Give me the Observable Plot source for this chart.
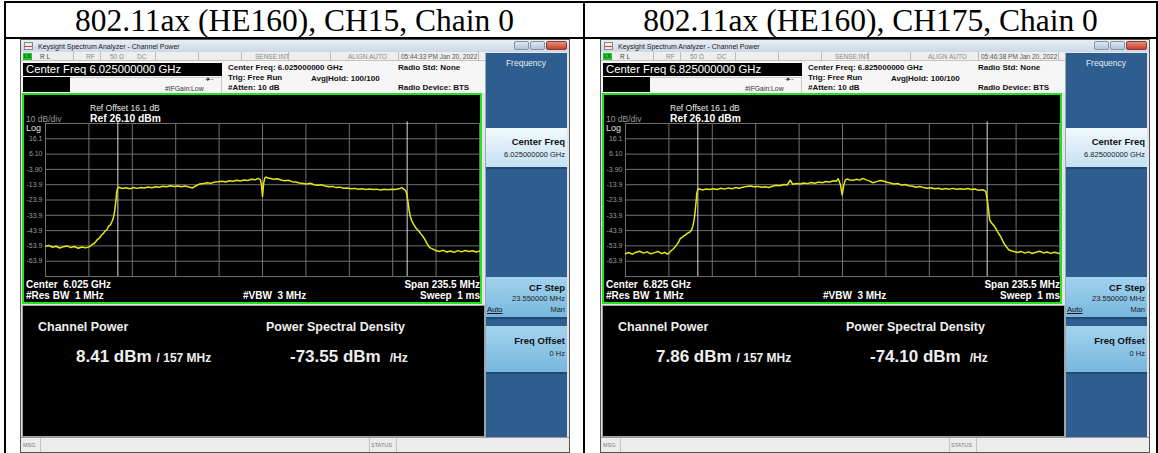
<!DOCTYPE html>
<html><head><meta charset="utf-8">
<script src="https://cdn.jsdelivr.net/npm/d3@7"></script>
<script src="https://cdn.jsdelivr.net/npm/@observablehq/plot@0.6"></script>
<style>
html,body{margin:0;padding:0;background:#fff;width:1158px;height:453px;overflow:hidden;}
#root{position:relative;width:1158px;height:453px;font-family:"Liberation Sans",Arial,sans-serif;overflow:hidden;}
.a{position:absolute;white-space:pre;}
</style></head><body><div id="root"></div>
<script>
// ---------------- data ----------------
const headers = ["802.11ax (HE160), CH15, Chain 0", "802.11ax (HE160), CH175, Chain 0"];
const centerFreqGHz = ["6.025000000", "6.825000000"];
const centerShort = ["6.025", "6.825"];
const timestamps = ["05:44:33 PM Jan 20, 2022", "05:46:38 PM Jan 20, 2022"];
const channelPower = ["8.41", "7.86"];
const psdValues = ["-73.55", "-74.10"];
const yGrid = [26.1, 16.1, 6.1, -3.9, -13.9, -23.9, -33.9, -43.9, -53.9, -63.9, -73.9];
const yTickValues = [16.1, 6.1, -3.9, -13.9, -23.9, -33.9, -43.9, -53.9, -63.9];
const yTickLabels = ["16.1", "6.10", "-3.90", "-13.9", "-23.9", "-33.9", "-43.9", "-53.9", "-63.9"];
const xGridMHz = [-117.75, -94.2, -70.65, -47.1, -23.55, 0, 23.55, 47.1, 70.65, 94.2, 117.75];
const channelEdgesMHz = [-78.5, 78.5];

// trace: [offset from center (MHz), level (dBm)]
const traceCH15 = [
[-117.75,-54.2],[-116,-53.6],[-114,-54.8],[-112,-54.1],[-110,-55.3],[-108,-54.4],[-106,-53.9],[-104,-55.0],[-102,-54.3],[-100,-55.4],[-98,-54.6],[-96,-55.2],[-94.5,-54.7],[-93.5,-54.1],
[-92.5,-53.0],[-91.5,-52.4],[-90.5,-51.2],[-89.5,-49.6],[-88.5,-48.8],[-87.5,-47.1],[-86.5,-46.0],[-85.5,-44.2],[-84.5,-43.5],[-83.5,-41.0],[-82.5,-40.2],[-81.5,-37.5],[-80.8,-35.0],[-80.2,-31.0],[-79.6,-25.0],[-79.1,-18.5],[-78.6,-16.2],
[-78,-15.6],[-76,-16.4],[-74,-15.9],[-72,-16.5],[-70,-15.8],[-68,-16.3],[-66,-15.7],[-64,-16.1],[-62,-15.4],[-60,-15.9],[-58,-15.2],[-56,-15.6],[-54,-14.9],[-52,-15.3],[-50,-14.6],[-48,-15.1],[-46,-14.7],[-44,-15.2],[-42,-14.8],[-40,-15.4],[-38,-16.0],[-36,-14.6],[-34,-13.4],[-32,-13.1],[-30,-12.6],[-28,-12.9],[-26,-12.2],[-24,-12.0],[-22,-11.6],[-20,-12.1],[-18,-11.3],[-16,-11.7],[-14,-11.0],[-12,-11.5],[-10,-10.8],[-8,-11.1],[-6,-10.4],[-4,-10.7],[-2.5,-9.8],[-1.2,-10.6],[-0.6,-13.5],[0,-21.5],[0.6,-13.2],[1.2,-9.6],[2,-8.9],[3,-9.5],[4.5,-9.9],[6,-10.3],[8,-10.0],[10,-10.8],[12,-11.3],[14,-11.0],[16,-11.9],[18,-12.2],[20,-12.8],[22,-13.1],[24,-13.4],[26,-13.0],[28,-13.9],[30,-14.2],[32,-14.0],[34,-14.7],[36,-15.2],[38,-15.0],[40,-15.8],[42,-15.5],[44,-16.2],[46,-16.0],[48,-16.6],[50,-16.3],[52,-16.9],[54,-16.5],[56,-17.0],[58,-16.7],[60,-17.1],[62,-16.8],[64,-17.3],[66,-16.9],[68,-17.2],[70,-16.8],[72,-17.1],[74,-16.6],[75.6,-15.8],[76.8,-17.0],[77.6,-17.6],[78.3,-20.0],
[79.0,-25.5],[79.6,-31.0],[80.3,-35.0],[81.0,-37.5],[82.0,-39.8],[83.0,-41.8],[84.0,-43.2],[85.0,-44.5],[86.0,-46.2],[87.0,-47.6],[88.0,-49.5],[89.0,-51.8],[90.0,-53.8],[91.0,-55.2],[92.5,-56.0],[94,-56.9],[96,-57.6],[98,-56.8],[100,-57.9],[102,-57.2],[104,-58.1],[106,-57.0],[108,-57.8],[110,-56.9],[112,-57.6],[114,-57.1],[116,-57.9],[117.75,-57.3]
];
const traceCH175 = [
[-117.75,-59.0],[-116,-58.2],[-114,-59.3],[-112,-58.0],[-110,-57.4],[-108,-58.6],[-106,-57.8],[-104,-59.1],[-102,-58.3],[-100,-57.6],[-98,-58.9],[-96.5,-58.1],[-95,-59.2],[-94,-58.4],
[-93,-57.0],[-92,-56.1],[-91,-54.8],[-90,-53.2],[-89,-51.5],[-88,-49.0],[-87,-48.3],[-86,-47.2],[-85,-46.6],[-84,-45.6],[-83,-45.0],[-82,-43.6],[-81.2,-41.0],[-80.6,-37.5],[-80.1,-33.0],[-79.6,-27.0],[-79.1,-20.0],[-78.6,-17.4],
[-78,-16.6],[-76,-17.3],[-74,-16.7],[-72,-17.1],[-70,-16.5],[-68,-17.0],[-66,-16.2],[-64,-16.8],[-62,-16.0],[-60,-16.5],[-58,-15.8],[-56,-16.2],[-54,-15.5],[-52,-15.0],[-50,-14.7],[-48,-15.3],[-46,-15.0],[-44,-15.6],[-42,-15.2],[-40,-15.7],[-38,-14.9],[-36,-14.3],[-34,-14.6],[-32,-13.8],[-30,-14.1],[-28.4,-11.0],[-27,-13.6],[-25,-13.1],[-23,-13.5],[-21,-12.8],[-19,-13.2],[-17,-12.5],[-15,-12.9],[-13,-12.2],[-11,-12.6],[-9,-11.8],[-7,-12.1],[-5,-11.3],[-3.5,-11.7],[-2.3,-10.0],[-1.1,-14.0],[-0.2,-20.5],[0.7,-14.2],[1.5,-10.9],[2.5,-10.2],[4,-10.8],[5.8,-11.0],[7.5,-10.4],[9.5,-10.9],[11,-9.8],[12.5,-10.6],[14.5,-11.4],[16.5,-12.6],[18.5,-11.9],[20.5,-11.2],[22,-11.5],[24,-12.3],[26,-12.8],[28,-13.4],[30,-13.1],[32,-14.2],[34,-13.8],[36,-14.6],[38,-14.9],[40,-15.5],[42,-15.1],[44,-15.8],[46,-16.2],[48,-15.9],[50,-16.6],[52,-16.2],[54,-16.9],[56,-16.4],[58,-16.8],[60,-16.3],[62,-16.9],[64,-16.5],[66,-16.8],[68,-16.4],[70,-17.0],[72,-16.7],[74,-17.6],[76,-17.2],[77.7,-18.1],[78.6,-24.0],
[79.3,-31.0],[79.9,-37.0],[80.7,-38.6],[81.5,-39.8],[82.3,-40.8],[83.2,-42.6],[84.1,-44.5],[85,-46.3],[86,-48.2],[87,-50.8],[88,-53.0],[89,-54.6],[90.2,-56.4],[91.5,-57.1],[93,-57.6],[95,-58.2],[97,-57.5],[99,-58.6],[101,-57.8],[103,-58.9],[105,-58.0],[107,-57.4],[109,-58.5],[111,-57.9],[113,-58.8],[115,-58.1],[117.75,-58.9]
];
const traces = [traceCH15, traceCH175];

// ---------------- helpers ----------------
const root = document.getElementById("root");
function box(x, y, w, h, style) {
  const d = document.createElement("div"); d.className = "a";
  d.style.cssText = `left:${x}px;top:${y}px;width:${w}px;height:${h}px;` + (style || "");
  root.appendChild(d); return d;
}
function txt(x, cy, s, size, style, anchor, small) {
  const d = document.createElement("div"); d.className = "a";
  const h = Math.round(size * 1.3);
  let pos = `left:${x}px;`;
  if (anchor === "end") pos = `right:${1158 - x}px;text-align:right;`;
  if (anchor === "middle") pos = `left:${x - 300}px;width:600px;text-align:center;`;
  d.style.cssText = `top:${cy - h / 2}px;height:${h}px;line-height:${h}px;font-size:${size}px;` + pos + (style || "");
  d.appendChild(document.createTextNode(s));
  if (small) {
    const sp = document.createElement("span");
    sp.textContent = small.text;
    sp.style.cssText = `font-size:${small.size}px;margin-left:${small.gap}px;`;
    d.appendChild(sp);
  }
  root.appendChild(d); return d;
}

function spectrum(trace) {
  const ticks = yTickValues.map((v, i) => ({v, label: yTickLabels[i]}));
  return Plot.plot({
    width: 460, height: 211,
    marginLeft: 23, marginRight: 3, marginTop: 30, marginBottom: 28,
    x: {domain: [-117.75, 117.75], axis: null},
    y: {domain: [-73.9, 26.1], axis: null},
    style: {background: "transparent", fontFamily: "Liberation Sans, Arial, sans-serif", overflow: "visible"},
    marks: [
      Plot.ruleY(yGrid, {stroke: "#6f6f6f", strokeWidth: 1}),
      Plot.ruleX(xGridMHz, {stroke: "#6f6f6f", strokeWidth: 1}),
      Plot.ruleX(channelEdgesMHz, {y1: -73.9, y2: 27.2, stroke: "#dcdcdc", strokeWidth: 1}),
      Plot.text(ticks, {x: -117.75, y: "v", text: "label", textAnchor: "end", dx: -3, fill: "#9d9d9d", fontSize: 7}),
      Plot.line(trace, {x: d => d[0], y: d => d[1], stroke: "#e6e612", strokeWidth: 1.5})
    ]
  });
}

// ---------------- table ----------------
box(4, 1, 1154, 2, "background:#000;");
box(4, 37, 1154, 2, "background:#000;");
box(4, 1, 2, 452, "background:#000;");
box(583, 1, 2, 452, "background:#000;");
box(1156, 1, 2, 452, "background:#000;");
headers.forEach((h, i) => {
  txt(i === 0 ? 294.5 : 870.5, 20, h, 31.5, "font-family:'Liberation Serif','Times New Roman',serif;color:#000;", "middle");
});

// ---------------- screens ----------------
function screen(i) {
  const dx = i * 580;
  const X = x => x + dx;
  // window frame
  box(X(20), 39, 550, 414, "background:#e4e4e4;box-sizing:border-box;border:1px solid #555;");
  // title bar
  box(X(21), 40, 548, 12, "background:linear-gradient(#e8eef5,#cbd8e6);");
  box(X(24), 42, 9, 8, "background:linear-gradient(#eee 0 45%,#d33 45% 70%,#eee 70%);border:1px solid #888;box-sizing:border-box;");
  txt(X(38), 46, "Keysight Spectrum Analyzer - Channel Power", 7, "color:#1b1b1b;");
  box(X(514), 41, 15, 9, "background:linear-gradient(#dfe8f2,#b4c6da);border:1px solid #7f93aa;box-sizing:border-box;border-radius:2px;");
  box(X(530), 41, 15, 9, "background:linear-gradient(#dfe8f2,#b4c6da);border:1px solid #7f93aa;box-sizing:border-box;border-radius:2px;");
  box(X(546), 41, 21, 9, "background:linear-gradient(#e8907e,#c3402c);border:1px solid #8a3b2e;box-sizing:border-box;border-radius:2px;");
  // status row
  box(X(21), 52, 464, 9, "background:#eeeeee;border-bottom:1px solid #c4c4c4;box-sizing:border-box;");
  [73, 100, 155, 198, 241, 288, 330, 398, 478].forEach(v => box(X(v), 52, 1, 9, "background:#bdbdbd;"));
  box(X(23), 53, 9, 7, "background:#22c322;");
  txt(X(24), 56.5, "LX", 5.5, "color:#063;font-weight:bold;");
  txt(X(40), 56.5, "R L", 6.5, "color:#444;");
  txt(X(86), 56.5, "RF", 6.5, "color:#8a8a8a;");
  txt(X(110), 56.5, "50 Ω", 6.5, "color:#8a8a8a;");
  txt(X(137), 56.5, "DC", 6.5, "color:#8a8a8a;");
  txt(X(255), 56.5, "SENSE:INT", 6.5, "color:#8a8a8a;");
  txt(X(348), 56.5, "ALIGN AUTO", 6.5, "color:#8a8a8a;");
  txt(X(401), 56.5, timestamps[i], 6.5, "color:#555;");
  // info area
  box(X(21), 61, 464, 32, "background:#f6f6f6;");
  box(X(23), 63, 199, 13, "background:#000;");
  txt(X(26), 69.5, "Center Freq " + centerFreqGHz[i] + " GHz", 11.3, "color:#fff;");
  box(X(23), 77, 47, 15, "background:#000;");
  box(X(70), 77, 152, 1, "background:#c8c8c8;");
  box(X(221), 77, 1, 16, "background:#c8c8c8;");
  txt(X(165), 88.5, "#IFGain:Low", 6.8, "color:#333;");
  txt(X(205), 79, "-▸-", 6.5, "color:#333;");
  txt(X(228), 68, "Center Freq: " + centerFreqGHz[i] + " GHz", 8, "color:#111;font-weight:bold;");
  txt(X(228), 77.5, "Trig: Free Run", 8, "color:#111;font-weight:bold;");
  txt(X(311), 78.5, "Avg|Hold: 100/100", 8, "color:#111;font-weight:bold;");
  txt(X(228), 87.5, "#Atten: 10 dB", 8, "color:#111;font-weight:bold;");
  txt(X(398), 68, "Radio Std: None", 8, "color:#111;font-weight:bold;");
  txt(X(398), 87.5, "Radio Device: BTS", 8, "color:#111;font-weight:bold;");
  // graph panel
  box(X(22), 93, 460, 211, "background:#000;");
  const svg = spectrum(traces[i]);
  svg.style.position = "absolute";
  svg.style.left = X(22) + "px";
  svg.style.top = "93px";
  root.appendChild(svg);
  box(X(22), 93, 460, 211, "border:2px solid #1ee61e;box-sizing:border-box;");
  txt(X(90), 108, "Ref Offset 16.1 dB", 8.5, "color:#e8e8e8;");
  txt(X(90), 118, "Ref 26.10 dBm", 10.3, "color:#fff;font-weight:bold;");
  txt(X(26), 119.5, "10 dB/div", 8.5, "color:#9a9a9a;");
  txt(X(26), 127.5, "Log", 9, "color:#e0e0e0;");
  txt(X(26), 284, "Center  " + centerShort[i] + " GHz", 10, "color:#fff;font-weight:bold;");
  txt(X(480), 284, "Span 235.5 MHz", 10, "color:#fff;font-weight:bold;", "end");
  txt(X(26), 295, "#Res BW  1 MHz", 10, "color:#fff;font-weight:bold;");
  txt(X(243), 295, "#VBW  3 MHz", 10, "color:#fff;font-weight:bold;");
  txt(X(480), 295, "Sweep  1 ms", 10, "color:#fff;font-weight:bold;", "end");
  // lower panel
  box(X(22), 305, 463, 132, "background:#000;border:1px solid #a0a0a0;box-sizing:border-box;");
  txt(X(38), 326.5, "Channel Power", 12.5, "color:#eee;font-weight:bold;");
  txt(X(266), 326.5, "Power Spectral Density", 12.5, "color:#eee;font-weight:bold;");
  txt(X(76), 357, channelPower[i] + " dBm", 17, "color:#eee;font-weight:bold;", null, {text: "/ 157 MHz", size: 12, gap: 5});
  txt(X(290), 357, psdValues[i] + " dBm", 17, "color:#eee;font-weight:bold;", null, {text: "/Hz", size: 12, gap: 9});
  // status bar
  box(X(21), 437, 548, 15, "background:#ececec;border-top:1px solid #9a9a9a;box-sizing:border-box;");
  box(X(40), 438, 1, 14, "background:#c4c4c4;");
  box(X(369), 438, 1, 14, "background:#c4c4c4;");
  box(X(396), 438, 1, 14, "background:#c4c4c4;");
  txt(X(23), 445, "MSG", 5.5, "color:#7a7a7a;");
  txt(X(371), 445, "STATUS", 5.5, "color:#7a7a7a;");
  // softkeys
  box(X(485), 53, 82, 384, "background:#2e5d90;border-left:1px solid #9aa9b8;box-sizing:border-box;");
  txt(X(526), 63, "Frequency", 8.5, "color:#e4ecf5;", "middle");
  box(X(486), 128, 81, 41, "background:linear-gradient(#f2f9fd,#c4e1f3);border-bottom:2px solid #1e4a78;box-sizing:border-box;");
  txt(X(565), 141.5, "Center Freq", 9.5, "color:#111;font-weight:bold;", "end");
  txt(X(565), 154.5, centerFreqGHz[i] + " GHz", 7.5, "color:#222;", "end");
  box(X(486), 277, 81, 42, "background:linear-gradient(#a2d3ee,#78b7de);border-bottom:2px solid #1e4a78;box-sizing:border-box;");
  txt(X(565), 287.5, "CF Step", 9.5, "color:#111;font-weight:bold;", "end");
  txt(X(565), 298.5, "23.550000 MHz", 7.5, "color:#222;", "end");
  txt(X(487), 310, "Auto", 7.5, "color:#111;text-decoration:underline;");
  txt(X(565), 310, "Man", 7.5, "color:#222;", "end");
  box(X(486), 326, 81, 48, "background:linear-gradient(#a2d3ee,#78b7de);border-bottom:2px solid #1e4a78;box-sizing:border-box;");
  txt(X(565), 341, "Freq Offset", 9.5, "color:#111;font-weight:bold;", "end");
  txt(X(565), 354, "0 Hz", 7.5, "color:#222;", "end");
}
screen(0);
screen(1);
</script></body></html>
